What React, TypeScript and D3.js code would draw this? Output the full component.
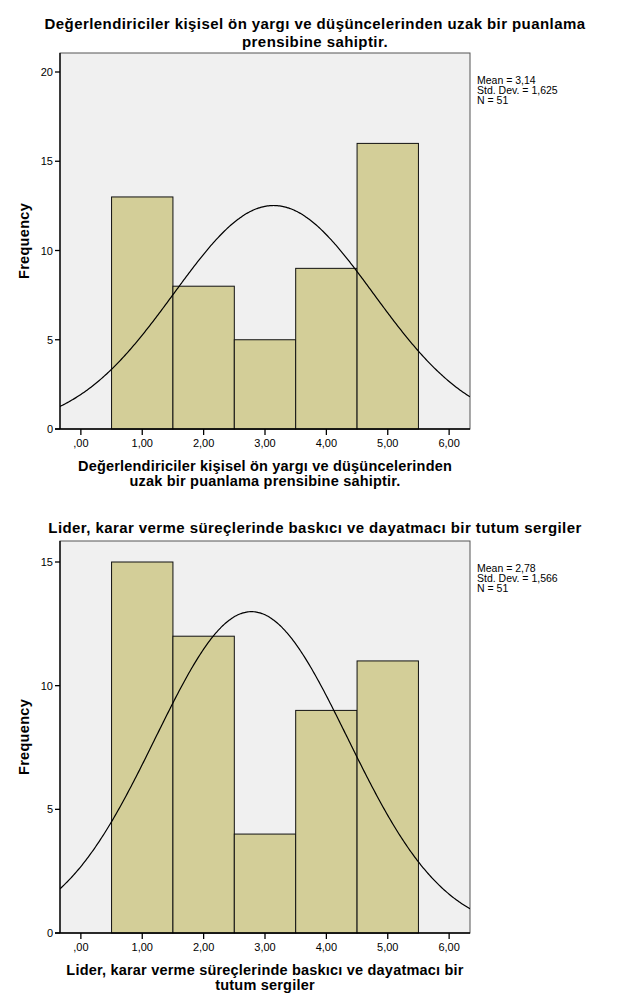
import React from "react";
import * as d3 from "d3";

const binCenters = [1, 2, 3, 4, 5];
const countsA = [13, 8, 5, 9, 16];
const countsB = [15, 12, 4, 9, 11];
const xTicks = [0, 1, 2, 3, 4, 5, 6];
const yTicksA = [0, 5, 10, 15, 20];
const yTicksB = [0, 5, 10, 15];
const titleA = ["Değerlendiriciler kişisel ön yargı ve düşüncelerinden uzak bir puanlama", "prensibine sahiptir."];
const xLabelA = ["Değerlendiriciler kişisel ön yargı ve düşüncelerinden", "uzak bir puanlama prensibine sahiptir."];
const titleB = ["Lider, karar verme süreçlerinde baskıcı ve dayatmacı bir tutum sergiler"];
const xLabelB = ["Lider, karar verme süreçlerinde baskıcı ve dayatmacı bir", "tutum sergiler"];
const statsA = { mean: 3.14, sd: 1.625, n: 51, meanText: "3,14", sdText: "1,625" };
const statsB = { mean: 2.78, sd: 1.566, n: 51, meanText: "2,78", sdText: "1,566" };

const FONT = "Liberation Sans, Arial, sans-serif";
const fmt = (v: number) => (v === 0 ? ",00" : v.toFixed(2).replace(".", ","));

type PanelProps = {
  top: number;
  bottom: number;
  yMax: number;
  counts: number[];
  yTicks: number[];
  title: string[];
  titleY: number;
  xLabel: string[];
  stats: { mean: number; sd: number; n: number; meanText: string; sdText: string };
  id: string;
};

function Panel({ top, bottom, yMax, counts, yTicks, title, titleY, xLabel, stats, id }: PanelProps) {
  const left = 60;
  const right = 470;
  const x = d3.scaleLinear().domain([-0.34, 6.34]).range([left, right]);
  const y = d3.scaleLinear().domain([0, yMax]).range([bottom, top]);
  const pdf = (v: number) =>
    (stats.n * 1 * Math.exp(-0.5 * ((v - stats.mean) / stats.sd) ** 2)) / (stats.sd * Math.sqrt(2 * Math.PI));
  const pts = d3.range(-0.34, 6.35, 0.02).map((v) => [v, pdf(v)] as [number, number]);
  const line = d3
    .line<[number, number]>()
    .x((d) => x(d[0]))
    .y((d) => y(d[1]))
    .curve(d3.curveBasis);
  return (
    <g>
      <defs>
        <clipPath id={id}>
          <rect x={left} y={top} width={right - left} height={bottom - top} />
        </clipPath>
      </defs>
      {title.map((t, i) => (
        <text key={i} x={315} y={titleY + i * 18} textAnchor="middle" fontFamily={FONT} fontWeight="bold" fontSize={15} letterSpacing={0.42}>
          {t}
        </text>
      ))}
      <rect x={left} y={top} width={right - left} height={bottom - top} fill="#F0F0F0" stroke="#555" strokeWidth={1} />
      {binCenters.map((c, i) => (
        <rect
          key={i}
          x={x(c - 0.5)}
          y={y(counts[i])}
          width={x(c + 0.5) - x(c - 0.5)}
          height={bottom - y(counts[i])}
          fill="#D3CE98"
          stroke="#111"
          strokeWidth={1}
        />
      ))}
      <path d={line(pts) || ""} fill="none" stroke="#000" strokeWidth={1.2} clipPath={`url(#${id})`} />
      <line x1={left} x2={left} y1={top} y2={bottom} stroke="#000" strokeWidth={1.3} />
      <line x1={left - 5} x2={right} y1={bottom} y2={bottom} stroke="#000" strokeWidth={1.3} />
      {yTicks.map((t) => (
        <g key={t}>
          <line x1={left - 5} x2={left} y1={y(t)} y2={y(t)} stroke="#000" strokeWidth={1.3} />
          <text x={left - 7} y={y(t) + 4} textAnchor="end" fontFamily={FONT} fontSize={11}>
            {t}
          </text>
        </g>
      ))}
      {xTicks.map((t) => (
        <g key={t}>
          <line x1={x(t)} x2={x(t)} y1={bottom} y2={bottom + 6} stroke="#000" strokeWidth={1.3} />
          <text x={x(t)} y={bottom + 18} textAnchor="middle" fontFamily={FONT} fontSize={11}>
            {fmt(t)}
          </text>
        </g>
      ))}
      {xLabel.map((t, i) => (
        <text key={i} x={265} y={bottom + 42 + i * 15} textAnchor="middle" fontFamily={FONT} fontWeight="bold" fontSize={14.5} letterSpacing={0.2}>
          {t}
        </text>
      ))}
      <text
        transform={`translate(29,${(top + bottom) / 2}) rotate(-90)`}
        textAnchor="middle"
        fontFamily={FONT}
        fontWeight="bold"
        fontSize={14.5}
        letterSpacing={0.3}
      >
        Frequency
      </text>
      <g fontFamily={FONT} fontSize={10.5}>
        <text x={477} y={top + 31}>Mean = {stats.meanText}</text>
        <text x={477} y={top + 41}>Std. Dev. = {stats.sdText}</text>
        <text x={477} y={top + 51}>N = {stats.n}</text>
      </g>
    </g>
  );
}

export default function App() {
  return (
    <svg width={627} height={1007} style={{ position: "absolute", left: 0, top: 0 }}>
      <rect width={627} height={1007} fill="#fff" />
      <Panel
        top={53}
        bottom={429}
        yMax={(429 - 53) / ((429 - 72) / 20)}
        counts={countsA}
        yTicks={yTicksA}
        title={titleA}
        titleY={29}
        xLabel={xLabelA}
        stats={statsA}
        id="clipA"
      />
      <Panel
        top={541}
        bottom={933}
        yMax={(933 - 541) / ((933 - 562) / 15)}
        counts={countsB}
        yTicks={yTicksB}
        title={titleB}
        titleY={533}
        xLabel={xLabelB}
        stats={statsB}
        id="clipB"
      />
    </svg>
  );
}
